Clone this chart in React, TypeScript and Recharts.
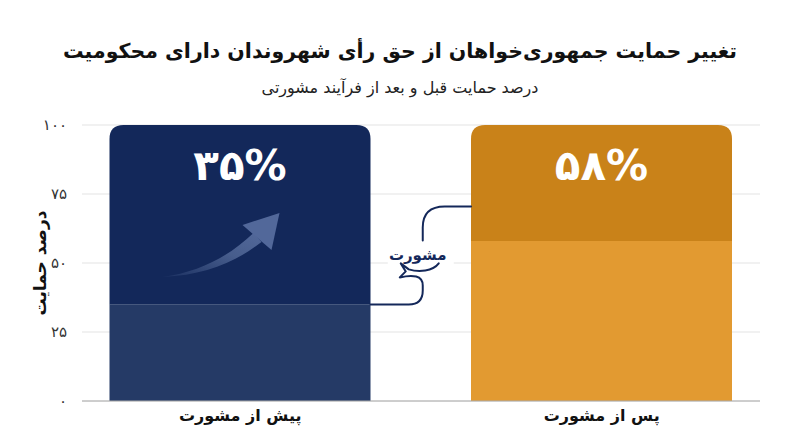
import React from 'react';
import { BarChart, Bar, XAxis, YAxis, CartesianGrid, Cell, LabelList } from 'recharts';

// ---- data ----
const categories = ['پیش از مشورت', 'پس از مشورت'];
const supportValues = [35, 58];
const yTicks = [0, 25, 50, 75, 100];
const maxValue = 100;
const connectorTarget = 70.5;
const lowColors = ['#253A66', '#E29A31'];
const highColors = ['#13285A', '#C98219'];

const title = 'تغییر حمایت جمهوری‌خواهان از حق رأی شهروندان دارای محکومیت';
const subtitle = 'درصد حمایت قبل و بعد از فرآیند مشورتی';
const yLabel = 'درصد حمایت';
const bubbleText = 'مشورت';

const data = categories.map((name, i) => ({
  name,
  value: supportValues[i],
  rest: maxValue - supportValues[i],
}));

const toFa = (n: number | string) => String(n).replace(/\d/g, (d) => '۰۱۲۳۴۵۶۷۸۹'[+d]);

const FONT = '"DejaVu Sans", sans-serif';
const NAVY = '#14285A';

// geometry shared between shapes within a render
const geom: { low: any[] } = { low: [] };

const LowShape = (props: any) => {
  const { x, y, width, height, index, fill } = props;
  geom.low[index] = { x, y, width, height };
  return <rect x={x} y={y} width={width} height={height} fill={fill} />;
};

const roundedTop = (x: number, y: number, w: number, h: number, r: number) =>
  `M${x},${y + h} V${y + r} Q${x},${y} ${x + r},${y} H${x + w - r} Q${x + w},${y} ${x + w},${y + r} V${y + h} Z`;

const HighShape = (props: any) => {
  const { x, y, width, height, index, fill } = props;
  const s = width / 261;
  const parts: any[] = [<path key="b" d={roundedTop(x, y, width, height, 14)} fill={fill} />];
  if (index === 0) {
    const p = (dx: number, dy: number) => `${x + dx * s},${y + dy * s}`;
    parts.push(
      <g key="arrow">
        <defs>
          <linearGradient id="arrowGrad" x1="0" y1="1" x2="1" y2="0">
            <stop offset="0%" stopColor="#4D6392" stopOpacity={0.15} />
            <stop offset="60%" stopColor="#4D6392" stopOpacity={0.9} />
            <stop offset="100%" stopColor="#52689A" stopOpacity={1} />
          </linearGradient>
        </defs>
        <path
          d={`M${p(53, 152)} C${p(95, 150)} ${p(125, 138)} ${p(152, 117)} L${p(144, 108)} C${p(120, 131)} ${p(90, 147)} ${p(53, 152)} Z`}
          fill="url(#arrowGrad)"
        />
        <path d={`M${p(170, 88)} L${p(133, 100)} L${p(162, 125)} Z`} fill="#52689A" />
      </g>
    );
  }
  if (index === 1 && geom.low[0] && geom.low[1]) {
    const L0 = geom.low[0];
    const L1 = geom.low[1];
    const baseline = L1.y + L1.height;
    const ppu = L1.height / supportValues[1];
    const yB = baseline - supportValues[0] * ppu;
    const yT = baseline - connectorTarget * ppu;
    const left = L0.x + L0.width;
    const right = x;
    const mx = (left + right) / 2;
    const my = (yB + yT) / 2;
    const top = `M${right},${yT} H${mx + 24} Q${mx + 2},${yT} ${mx + 2},${yT + 21} V${my - 15}`;
    const bottom = `M${mx + 18},${my + 8} C${mx + 12},${my + 16} ${mx - 2},${my + 17} ${mx - 12},${my + 14} L${mx - 20},${my + 8} L${mx - 15},${my + 16} L${mx - 21},${my + 22} C${mx - 8},${my + 19} ${mx + 2},${my + 20} ${mx + 2},${my + 30} V${yB - 14} Q${mx + 2},${yB} ${mx - 12},${yB} H${left}`;
    parts.push(
      <g key="conn">
        <rect x={mx - 33} y={my - 16} width={66} height={40} fill="#ffffff" />
        <path d={top} fill="none" stroke={NAVY} strokeWidth={2} strokeLinecap="round" />
        <path d={bottom} fill="none" stroke={NAVY} strokeWidth={2} strokeLinecap="round" strokeLinejoin="round" />
        <text
          x={mx - 3}
          y={my}
          textAnchor="middle"
          dominantBaseline="central"
          fontFamily={FONT}
          fontWeight="bold"
          fontSize={15}
          fill={NAVY}
          direction="rtl"
        >
          {bubbleText}
        </text>
      </g>
    );
  }
  return <g>{parts}</g>;
};

const ValueLabel = (props: any) => {
  const { x, y, width, index } = props;
  return (
    <text
      x={x + width / 2}
      y={y + 40}
      textAnchor="middle"
      dominantBaseline="central"
      fontFamily={FONT}
      fontWeight="bold"
      fontSize={42}
      fill="#ffffff"
      direction="ltr"
    >
      {toFa(supportValues[index]) + '%'}
    </text>
  );
};

const XTick = (props: any) => {
  const { x, y, payload } = props;
  return (
    <text
      x={x}
      y={y + 6}
      textAnchor="middle"
      dominantBaseline="central"
      fontFamily={FONT}
      fontWeight="bold"
      fontSize={16}
      fill="#111"
      direction="rtl"
    >
      {payload.value}
    </text>
  );
};

const YTick = (props: any) => {
  const { x, y, payload } = props;
  return (
    <text x={x} y={y} textAnchor="end" dominantBaseline="central" fontFamily={FONT} fontSize={15} fill="#333">
      {toFa(payload.value)}
    </text>
  );
};

export default function App() {
  return (
    <div style={{ position: 'absolute', left: 0, top: 0, width: 800, height: 447, background: '#fff', fontFamily: FONT }}>
      <div
        style={{
          position: 'absolute',
          left: 0,
          top: 35,
          width: 800,
          textAlign: 'center',
          fontSize: 20.5,
          fontWeight: 'bold',
          color: '#111',
          direction: 'rtl',
          lineHeight: '32px',
        }}
      >
        {title}
      </div>
      <div
        style={{
          position: 'absolute',
          left: 0,
          top: 77,
          width: 800,
          textAlign: 'center',
          fontSize: 16,
          color: '#222',
          direction: 'rtl',
          lineHeight: '22px',
        }}
      >
        {subtitle}
      </div>
      <div style={{ position: 'absolute', left: 0, top: 0 }}>
        <BarChart width={800} height={447} data={data} margin={{ top: 125, right: 40, bottom: 16, left: 0 }} barSize={261}>
          <CartesianGrid vertical={false} stroke="#e3e3e3" />
          <XAxis
            dataKey="name"
            height={30}
            tickLine={false}
            axisLine={{ stroke: '#aaaaaa' }}
            padding={{ left: -22.5, right: -22.5 }}
            tick={<XTick />}
            interval={0}
          />
          <YAxis
            width={82}
            domain={[0, maxValue]}
            ticks={yTicks}
            tickLine={false}
            axisLine={false}
            tick={<YTick />}
            tickMargin={9}
          />
          <Bar dataKey="value" stackId="s" isAnimationActive={false} shape={<LowShape />}>
            {data.map((d, i) => (
              <Cell key={d.name} fill={lowColors[i]} />
            ))}
          </Bar>
          <Bar dataKey="rest" stackId="s" isAnimationActive={false} shape={<HighShape />}>
            {data.map((d, i) => (
              <Cell key={d.name} fill={highColors[i]} />
            ))}
            <LabelList dataKey="rest" content={<ValueLabel />} />
          </Bar>
        </BarChart>
      </div>
      <div
        style={{
          position: 'absolute',
          left: 40,
          top: 263,
          transform: 'translate(-50%, -50%) rotate(-90deg)',
          fontSize: 17,
          fontWeight: 'bold',
          color: '#111',
          direction: 'rtl',
          whiteSpace: 'nowrap',
        }}
      >
        {yLabel}
      </div>
    </div>
  );
}
